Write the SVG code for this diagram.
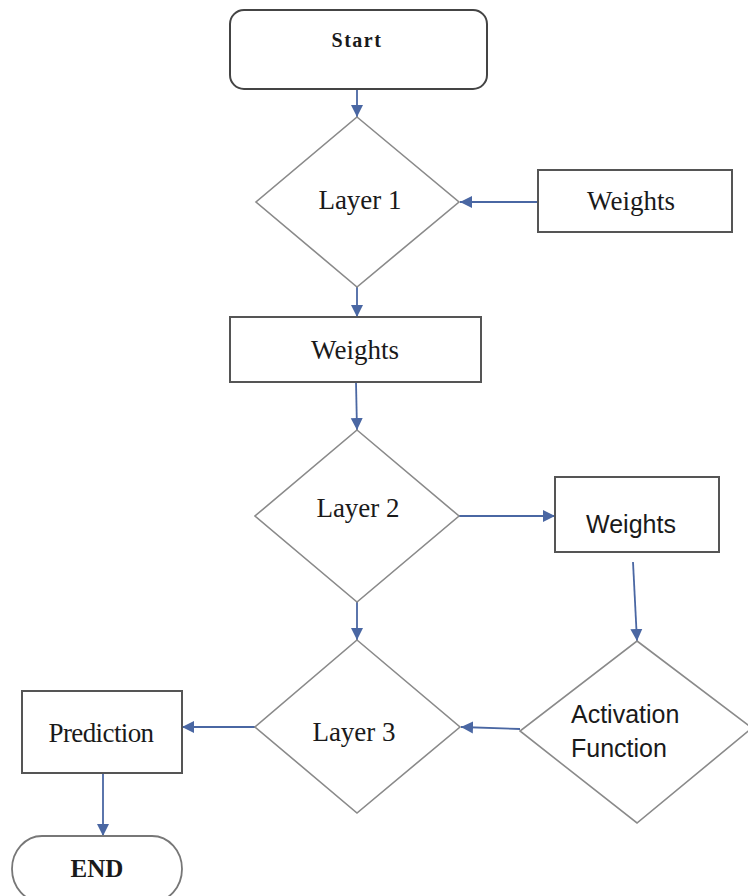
<svg xmlns="http://www.w3.org/2000/svg" width="748" height="896" viewBox="0 0 748 896">
<defs>
<marker id="ah" markerUnits="userSpaceOnUse" markerWidth="14" markerHeight="14" refX="12" refY="7" orient="auto">
<path d="M0,1 L12,7 L0,13 z" fill="#4a67a3"/>
</marker>
<style>
.box{fill:#fff;stroke:#555;stroke-width:2}
.dia{fill:#fff;stroke:#8a8a8a;stroke-width:1.6}
.serif{font-family:"Liberation Serif","Times New Roman",serif;font-size:27px;fill:#1a1a1a;text-anchor:middle}
.bold{font-weight:bold}
.sans{font-family:"Liberation Sans",Arial,sans-serif;font-size:25px;fill:#1a1a1a}
.conn{fill:none;stroke:#4a67a3;stroke-width:1.8;marker-end:url(#ah)}
</style>
</defs>
<rect width="748" height="896" fill="#fff"/>
<g id="connectors">
<line class="conn" x1="357" y1="89" x2="357" y2="117"/>
<line class="conn" x1="538" y1="202" x2="460" y2="202"/>
<line class="conn" x1="357" y1="287" x2="357" y2="317"/>
<line class="conn" x1="356" y1="382" x2="357" y2="430"/>
<line class="conn" x1="459" y1="516" x2="555" y2="516"/>
<line class="conn" x1="633" y1="562" x2="637" y2="641"/>
<line class="conn" x1="357" y1="602" x2="357" y2="640"/>
<line class="conn" x1="520" y1="729" x2="461" y2="727"/>
<line class="conn" x1="255" y1="727" x2="182" y2="727"/>
<line class="conn" x1="103" y1="773" x2="103" y2="836"/>
</g>
<g id="start">
<rect x="230" y="10" width="257" height="79" rx="14" fill="#fff" stroke="#444" stroke-width="2"/>
<text class="serif bold" x="357" y="47" style="font-size:20px;letter-spacing:1.5px">Start</text>
</g>
<g id="layer1">
<polygon class="dia" points="357,117 459,202 357,287 256,202"/>
<text class="serif" x="360" y="209">Layer 1</text>
</g>
<g id="weights1">
<rect class="box" x="538" y="170" width="194" height="62"/>
<text class="serif" x="631" y="210">Weights</text>
</g>
<g id="weights2">
<rect class="box" x="230" y="317" width="251" height="65"/>
<text class="serif" x="355" y="359">Weights</text>
</g>
<g id="layer2">
<polygon class="dia" points="357,430 459,516 357,602 255,516"/>
<text class="serif" x="358" y="517">Layer 2</text>
</g>
<g id="weights3">
<rect class="box" x="555" y="477" width="164" height="75"/>
<text class="sans" x="631" y="533" text-anchor="middle">Weights</text>
</g>
<g id="layer3">
<polygon class="dia" points="357,640 460,727 357,813 255,727"/>
<text class="serif" x="354" y="741">Layer 3</text>
</g>
<g id="activation">
<polygon class="dia" points="637,641 752,728 637,823 520,731"/>
<text class="sans" x="571" y="723">Activation</text>
<text class="sans" x="571" y="757">Function</text>
</g>
<g id="prediction">
<rect class="box" x="22" y="691" width="160" height="82"/>
<text class="serif" x="101" y="742" style="letter-spacing:-0.6px">Prediction</text>
</g>
<g id="end">
<rect x="12" y="836" width="170" height="66" rx="30" ry="33" fill="#fff" stroke="#777" stroke-width="1.8"/>
<text class="serif bold" x="97" y="877" style="font-size:25px">END</text>
</g>
</svg>
